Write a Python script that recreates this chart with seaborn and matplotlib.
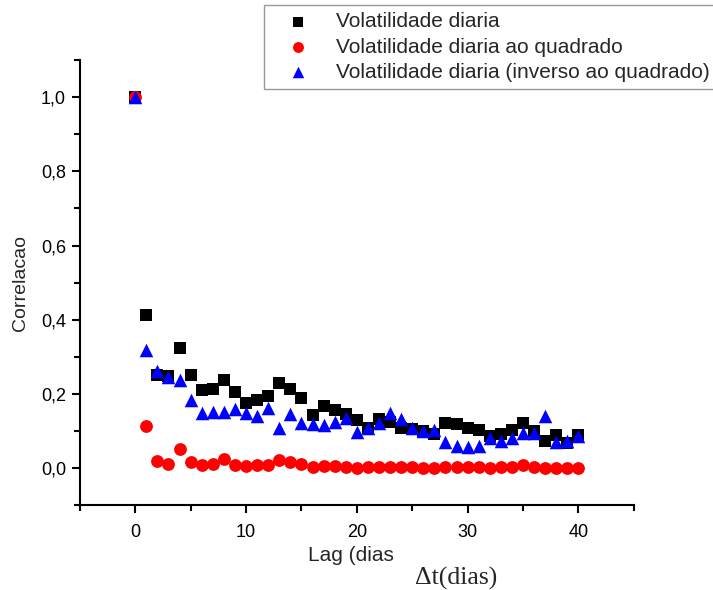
import numpy as np
import pandas as pd
import matplotlib
matplotlib.use('Agg')
import matplotlib.pyplot as plt
from matplotlib.ticker import MultipleLocator, FuncFormatter
import seaborn as sns

# Lags (dias)
lags = list(range(0, 41))

# Volatilidade diaria (quadrados pretos)
vol_diaria = [1.000, 0.412, 0.251, 0.248, 0.324, 0.251, 0.211, 0.214, 0.236, 0.204,
              0.174, 0.183, 0.195, 0.229, 0.214, 0.189, 0.142, 0.167, 0.156, 0.145,
              0.129, 0.109, 0.133, 0.125, 0.107, 0.104, 0.100, 0.091, 0.120, 0.118,
              0.109, 0.102, 0.087, 0.091, 0.102, 0.122, 0.100, 0.073, 0.089, 0.067,
              0.089]

# Volatilidade diaria ao quadrado (circulos vermelhos)
vol_quadrado = [1.000, 0.114, 0.018, 0.011, 0.050, 0.016, 0.007, 0.011, 0.025, 0.007,
                0.004, 0.007, 0.009, 0.022, 0.015, 0.011, 0.002, 0.004, 0.004, 0.003,
                0.001, 0.002, 0.002, 0.002, 0.002, 0.002, 0.001, 0.001, 0.003, 0.003,
                0.002, 0.002, 0.001, 0.002, 0.002, 0.007, 0.003, 0.000, 0.001, 0.000,
                0.001]

# Volatilidade diaria (inverso ao quadrado) (triangulos azuis)
vol_inverso = [1.000, 0.318, 0.262, 0.245, 0.236, 0.183, 0.147, 0.151, 0.151, 0.158,
               0.149, 0.140, 0.163, 0.109, 0.145, 0.120, 0.118, 0.116, 0.123, 0.136,
               0.096, 0.107, 0.120, 0.147, 0.133, 0.107, 0.100, 0.102, 0.069, 0.060,
               0.056, 0.058, 0.082, 0.074, 0.080, 0.093, 0.093, 0.140, 0.071, 0.074,
               0.087]

series_names = ['Volatilidade diaria',
                'Volatilidade diaria ao quadrado',
                'Volatilidade diaria (inverso ao quadrado)']

df = pd.concat([
    pd.DataFrame({'lag': lags, 'corr': vol_diaria, 'serie': series_names[0]}),
    pd.DataFrame({'lag': lags, 'corr': vol_quadrado, 'serie': series_names[1]}),
    pd.DataFrame({'lag': lags, 'corr': vol_inverso, 'serie': series_names[2]}),
])

sns.set_style('ticks')
plt.rcParams['font.family'] = ['Liberation Sans', 'DejaVu Sans']

fig = plt.figure(figsize=(7.13, 5.90), dpi=100)
ax = fig.add_axes([0.112, 0.144, 0.777, 0.754])

palette = {series_names[0]: 'black', series_names[1]: '#ff0000', series_names[2]: '#0000ff'}
markers = {series_names[0]: 's', series_names[1]: 'o', series_names[2]: '^'}
sizes = {series_names[0]: 70, series_names[1]: 85, series_names[2]: 95}

for name in series_names:
    sub = df[df['serie'] == name]
    sns.scatterplot(data=sub, x='lag', y='corr', color=palette[name],
                    marker=markers[name], s=sizes[name], linewidth=0,
                    label=name, ax=ax, zorder=3)

ax.set_xlim(-5, 45)
ax.set_ylim(-0.1, 1.1)
ax.xaxis.set_major_locator(MultipleLocator(10))
ax.xaxis.set_minor_locator(MultipleLocator(5))
ax.yaxis.set_major_locator(MultipleLocator(0.2))
ax.yaxis.set_minor_locator(MultipleLocator(0.1))
ax.yaxis.set_major_formatter(FuncFormatter(lambda v, p: f'{v:.1f}'.replace('.', ',')))

sns.despine(ax=ax)
for s in ['left', 'bottom']:
    ax.spines[s].set_linewidth(1.5)
    ax.spines[s].set_color('black')
ax.tick_params(which='major', direction='out', length=6, width=1.5, labelsize=13, colors='black')
ax.tick_params(which='minor', direction='out', length=4, width=1.5, colors='black')
ax.tick_params(axis='y', pad=4)
ax.tick_params(axis='x', pad=8)

ax.set_ylabel('Correlacao', fontsize=14)
ax.yaxis.set_label_coords(-0.092, 0.5)
ax.set_xlabel('Lag (dias', fontsize=15)
ax.xaxis.set_label_coords(0.49, -0.092)

fig.text(0.64, 0.0, '\u0394t(dias)', fontsize=18.5, family=['Liberation Serif', 'DejaVu Serif'],
         ha='center', va='bottom')

leg = ax.legend(loc='upper left', bbox_to_anchor=(264 / 713, 1 - 5 / 590),
                bbox_transform=fig.transFigure, fontsize=15, frameon=True,
                fancybox=False, edgecolor='#808080', borderpad=0.35,
                labelspacing=0.3, handletextpad=0.5, borderaxespad=0,
                handlelength=2.6, markerscale=0.85)
leg.get_frame().set_linewidth(1.0)

fig.savefig('out.png', dpi=100)
